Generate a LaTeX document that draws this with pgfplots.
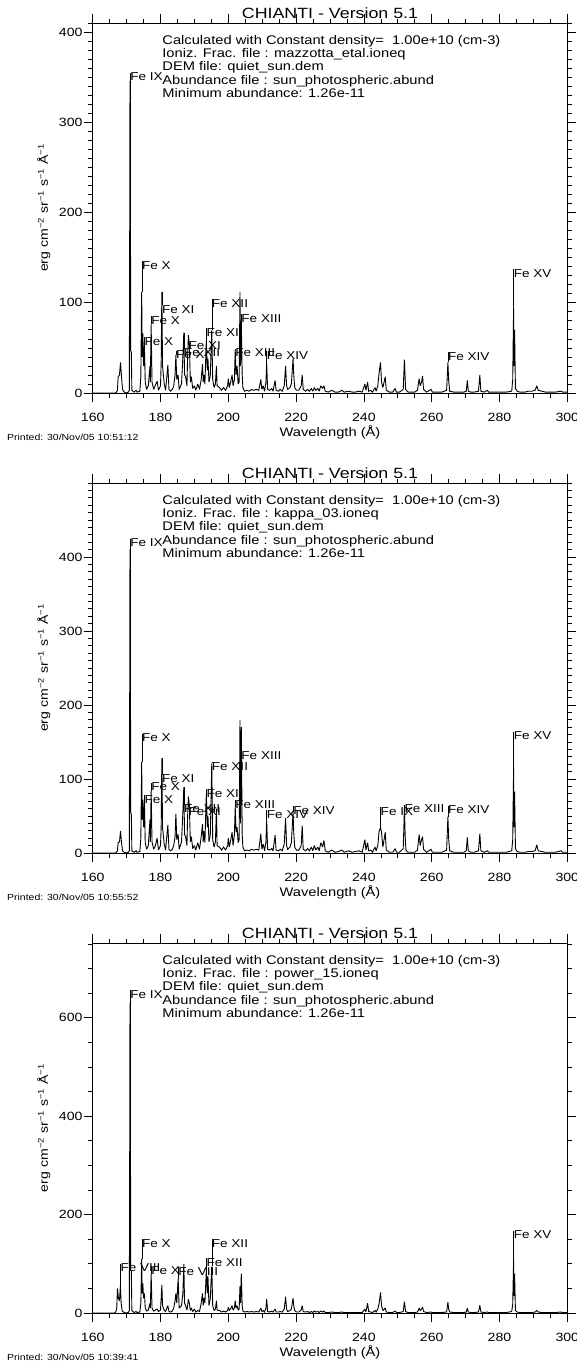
\documentclass[border=0pt]{standalone}
\usepackage{fontspec}
\setmainfont{Liberation Sans}[FakeStretch=1.18]
\newfontfamily\annfam{Liberation Sans}[FakeStretch=1.17]
\newfontfamily\titfam{Liberation Sans}[FakeStretch=1.2]
\usepackage{pgfplots}
\pgfplotsset{compat=1.18}
\newcommand\lfont{\fontsize{11.5}{12}\selectfont}
\newcommand\afont{\annfam\fontsize{12.6}{13}\selectfont}
\newcommand\tfont{\titfam\fontsize{14.9}{15}\selectfont}
\newcommand\pfont{\fontsize{8.9}{9}\selectfont}
\newcommand{\lbl}[4]{\draw[line width=0.5bp] (axis cs:#1,#2) -- (axis cs:#1,#3);
  \node[anchor=north west, inner sep=0pt, font=\lfont] at (axis cs:#1,#3) {#4};}
\newcommand{\info}[1]{%
  \node[anchor=base west, inner sep=0pt, font=\afont] at (rel axis cs:0,1) [xshift=69.5bp, yshift=-21.1bp] {Calculated with Constant density=\ \ 1.00e+10 (cm-3)};
  \node[anchor=base west, inner sep=0pt, font=\afont] at (rel axis cs:0,1) [xshift=69.5bp, yshift=-34.5bp] {Ioniz. Frac. file : #1};
  \node[anchor=base west, inner sep=0pt, font=\afont] at (rel axis cs:0,1) [xshift=69.5bp, yshift=-47.8bp] {DEM file: quiet\_sun.dem};
  \node[anchor=base west, inner sep=0pt, font=\afont] at (rel axis cs:0,1) [xshift=69.5bp, yshift=-61.1bp] {Abundance file : sun\_photospheric.abund};
  \node[anchor=base west, inner sep=0pt, font=\afont] at (rel axis cs:0,1) [xshift=69.5bp, yshift=-74.5bp] {Minimum abundance: 1.26e-11};
  \node[anchor=base, inner sep=0pt, font=\tfont] at (rel axis cs:0.5,1) [yshift=5bp] {CHIANTI - Version 5.1};
  \node[anchor=base, inner sep=0pt, font=\fontsize{12.5}{13}\selectfont] at (rel axis cs:0.5,0) [yshift=-43.3bp] {Wavelength (Å)};
}
\pgfplotsset{
  chianti/.style={
    scale only axis, width=474.6bp, height=370bp,
    xmin=160, xmax=300, ymin=0, clip=false,
    xtick={160,180,...,300}, minor xtick={160,165,...,300},
    tick align=outside, major tick length=9bp, minor tick length=4.5bp,
    axis line style={line width=0.8bp},
    every tick/.style={black, line width=0.7bp},
    tick label style={font=\fontsize{12}{12}\selectfont},
    xticklabel style={anchor=base, inner sep=0pt, yshift=-19.3bp},
    yticklabel style={anchor=east, inner sep=0pt, xshift=-1bp},
    /pgf/number format/assume math mode=true,
    /pgf/number format/1000 sep={},
  },
  spec/.style={black, line width=0.9bp, sharp plot, mark=none, line join=miter, miter limit=2},
}
\begin{document}
\begin{tikzpicture}
\useasboundingbox (0bp,0bp) rectangle (577bp,-1365bp);
% ---------------- panel 1 ----------------
\begin{axis}[chianti, at={(92.7bp,-393bp)}, anchor=south west, ymax=410,
  ytick={0,100,...,400}, minor ytick={0,10,...,410}]
\addplot[spec] coordinates {(160,0) (166.6,0) (167.0,1) (167.3,3) (167.5,18) (167.9,20) (168.2,34) (168.5,18) (168.8,4) (169.3,1) (169.8,0) (170.5,1) (170.8,3) (170.9,153) (171.0,345) (171.1,345) (171.2,47) (171.4,45) (171.55,3) (172.2,1) (172.8,3) (173.1,1) (173.9,2) (174.2,18) (174.45,112) (174.6,40) (174.8,66) (175.0,30) (175.26,51) (175.5,12) (175.9,4) (176.4,8) (176.9,30) (177.0,12) (177.24,76) (177.5,12) (178.0,4) (178.5,9) (179.0,13) (179.4,3) (180.0,8) (180.2,33) (180.4,112) (180.6,30) (181.1,10) (181.5,3) (182.17,31) (182.5,4) (183.0,2) (183.5,4) (183.9,8) (184.3,20) (184.54,42) (184.8,15) (185.2,20) (185.5,4) (186.2,10) (186.6,40) (186.88,67) (187.1,20) (187.4,18) (187.8,8) (188.0,40) (188.23,64) (188.5,55) (188.8,12) (189.1,18) (189.5,5) (190.0,8) (190.4,3) (191.0,10) (191.5,4) (192.0,15) (192.39,32) (192.6,12) (192.8,20) (193.1,10) (193.51,58) (193.8,25) (194.0,38) (194.3,12) (194.7,20) (195.12,70) (195.4,15) (195.8,6) (196.2,10) (196.5,30) (196.7,8) (197.4,6) (198.0,3) (198.6,6) (199.2,3) (199.8,8) (200.0,16) (200.3,6) (200.8,14) (201.12,20) (201.4,8) (201.8,15) (202.04,48) (202.3,20) (202.6,30) (202.9,10) (203.2,12) (203.45,112) (203.6,30) (203.83,80) (204.1,20) (204.3,6) (204.8,2) (205.5,3) (206.2,2) (206.8,4) (207.5,3) (208.3,4) (209.0,3) (209.6,15) (209.9,4) (210.3,8) (210.7,2) (211.1,12) (211.32,33) (211.6,4) (212.2,3) (212.8,5) (213.2,2) (213.8,14) (214.1,3) (214.8,2) (215.3,4) (215.9,2) (216.5,8) (216.9,30) (217.2,8) (217.5,4) (218.2,6) (218.6,10) (219.1,38) (219.3,20) (219.6,6) (220.1,3) (220.8,3) (221.5,8) (221.8,20) (222.1,4) (222.8,2) (223.4,4) (223.9,2) (224.5,5) (224.9,2) (225.4,6) (225.8,3) (226.4,5) (226.8,2) (227.3,8) (227.8,5) (228.2,8) (228.6,2) (229.5,1) (230.5,3) (231.5,1) (232.5,1) (233.5,3) (234.2,1) (235.5,2) (236.5,1) (237.5,1) (238.5,2) (239.5,1) (240.3,10) (240.6,3) (241.1,12) (241.4,2) (242.0,3) (242.5,1) (243.3,6) (243.6,2) (244.1,8) (244.5,23) (244.9,34) (245.2,12) (245.6,6) (246.3,18) (246.6,3) (247.5,1) (248.5,1) (249.2,5) (249.6,1) (250.5,1) (251.6,4) (251.95,37) (252.3,4) (253.0,1) (254.0,1) (255.0,1) (255.8,3) (256.3,16) (256.6,8) (257.0,12) (257.3,19) (257.6,4) (258.5,1) (259.8,4) (260.2,1) (261.5,1) (263.0,1) (264.4,3) (264.78,34) (265.0,14) (265.3,2) (266.5,1) (268.0,1) (269.5,1) (270.2,2) (270.5,14) (270.8,2) (271.5,1) (272.5,1) (273.8,2) (274.2,20) (274.5,2) (275.5,1) (276.4,3) (276.8,1) (278.0,1) (280.0,1) (282.0,1) (283.6,2) (283.9,15) (284.16,95) (284.3,30) (284.45,70) (284.7,5) (285.2,2) (286.0,1) (287.5,1) (288.5,2) (289.5,2) (290.5,3) (291.0,8) (291.4,3) (292.5,2) (293.5,1) (295.0,1) (296.5,1) (298.2,2) (298.6,1) (300,1)};
\lbl{171.07}{345}{355}{Fe IX}
\lbl{174.53}{112}{146}{Fe X}
\lbl{175.26}{51}{62}{Fe X}
\lbl{177.24}{76}{85}{Fe X}
\lbl{180.40}{112}{97}{Fe XI}
\lbl{184.54}{42}{47}{Fe X}
\lbl{186.88}{67}{49}{Fe XII}
\lbl{188.23}{64}{57}{Fe XI}
\lbl{193.51}{58}{72}{Fe XII}
\lbl{195.12}{70}{104}{Fe XII}
\lbl{202.04}{48}{49}{Fe XIII}
\lbl{203.83}{80}{87}{Fe XIII}
\lbl{211.32}{33}{46}{Fe XIV}
\lbl{264.78}{34}{45}{Fe XIV}
\lbl{284.16}{95}{137}{Fe XV}
\info{mazzotta\_etal.ioneq}
\end{axis}
\node[rotate=90, font=\fontsize{12}{12}\selectfont] at (43.9bp,-208bp) {erg cm\textsuperscript{−2} sr\textsuperscript{−1} s\textsuperscript{−1} Å\textsuperscript{−1}};
\node[anchor=base west, inner sep=0pt, font=\pfont] at (7bp,-440.7bp) {Printed: 30/Nov/05 10:51:12};
% ---------------- panel 2 ----------------
\begin{axis}[chianti, at={(92.7bp,-853bp)}, anchor=south west, ymax=500,
  ytick={0,100,...,400}, minor ytick={0,10,...,500}]
\addplot[spec] coordinates {(160,0) (166.6,0) (167.0,1) (167.3,3) (167.5,14) (167.9,15) (168.2,30) (168.5,14) (168.8,3) (169.3,1) (169.8,0) (170.5,1) (170.8,3) (170.9,185) (171.0,410) (171.1,410) (171.2,55) (171.4,52) (171.55,3) (172.2,1) (172.8,3) (173.1,1) (173.9,2) (174.2,20) (174.45,123) (174.6,45) (174.8,72) (175.0,35) (175.26,68) (175.5,14) (175.9,5) (176.4,10) (176.9,45) (177.0,15) (177.24,84) (177.5,15) (178.0,5) (178.5,10) (179.0,20) (179.4,4) (180.0,10) (180.2,35) (180.4,128) (180.6,35) (181.1,12) (181.5,4) (182.17,38) (182.5,5) (183.0,3) (183.5,5) (183.9,10) (184.3,22) (184.54,53) (184.8,18) (185.2,25) (185.5,5) (186.2,15) (186.6,55) (186.88,89) (187.1,25) (187.4,22) (187.8,10) (188.0,50) (188.23,76) (188.5,65) (188.8,15) (189.1,22) (189.5,6) (190.0,10) (190.4,4) (191.0,14) (191.5,5) (192.0,22) (192.39,39) (192.6,15) (192.8,30) (193.1,14) (193.51,80) (193.8,35) (194.0,50) (194.3,15) (194.7,25) (195.12,121) (195.4,18) (195.8,8) (196.2,15) (196.5,60) (196.7,10) (197.4,8) (198.0,4) (198.6,8) (199.2,4) (199.8,10) (200.0,20) (200.3,8) (200.8,20) (201.12,28) (201.4,10) (201.8,25) (202.04,62) (202.3,28) (202.6,35) (202.9,14) (203.2,18) (203.45,180) (203.6,40) (203.83,170) (204.1,25) (204.3,8) (204.8,3) (205.5,4) (206.2,3) (206.8,5) (207.5,4) (208.3,5) (209.0,4) (209.6,26) (209.9,5) (210.3,12) (210.7,3) (211.1,15) (211.32,44) (211.6,5) (212.2,4) (212.8,6) (213.2,3) (213.8,24) (214.1,4) (214.8,3) (215.3,5) (215.9,3) (216.5,12) (216.9,47) (217.2,10) (217.5,5) (218.2,8) (218.6,14) (219.1,55) (219.3,28) (219.6,8) (220.1,4) (220.8,4) (221.5,10) (221.8,37) (222.1,5) (222.8,3) (223.4,6) (223.9,3) (224.5,8) (224.9,3) (225.4,10) (225.8,4) (226.4,8) (226.8,3) (227.3,14) (227.8,8) (228.2,17) (228.6,3) (229.5,1) (230.5,4) (231.5,1) (232.5,2) (233.5,4) (234.2,1) (235.5,3) (236.5,1) (237.5,2) (238.5,3) (239.5,1) (240.3,18) (240.6,4) (241.1,14) (241.4,3) (242.0,4) (242.5,1) (243.3,8) (243.6,3) (244.1,10) (244.5,30) (244.9,34) (245.2,28) (245.6,8) (246.3,28) (246.6,4) (247.5,1) (248.5,1) (249.2,6) (249.6,1) (250.5,1) (251.6,6) (251.95,60) (252.2,20) (252.4,4) (253.0,1) (254.0,1) (255.0,1) (255.8,4) (256.3,25) (256.6,10) (257.0,18) (257.3,22) (257.6,5) (258.5,1) (259.8,5) (260.2,1) (261.5,1) (263.0,1) (264.4,4) (264.78,49) (265.0,20) (265.3,3) (266.5,1) (268.0,1) (269.5,1) (270.2,3) (270.5,21) (270.8,3) (271.5,1) (272.5,1) (273.8,3) (274.2,26) (274.5,3) (275.5,1) (276.4,3) (276.8,1) (278.0,1) (280.0,1) (282.0,1) (283.6,3) (283.9,18) (284.16,115) (284.3,35) (284.45,83) (284.7,6) (285.2,2) (286.0,1) (287.5,1) (288.5,2) (289.5,2) (290.5,3) (291.0,11) (291.4,3) (292.5,2) (293.5,1) (295.0,1) (296.5,1) (298.2,3) (298.6,1) (300,1)};
\lbl{171.07}{410}{425}{Fe IX}
\lbl{174.53}{123}{161}{Fe X}
\lbl{175.26}{68}{78}{Fe X}
\lbl{177.24}{84}{95}{Fe X}
\lbl{180.40}{128}{106}{Fe XI}
\lbl{186.88}{89}{65}{Fe XII}
\lbl{188.23}{76}{62}{Fe XI}
\lbl{193.51}{80}{86}{Fe XII}
\lbl{195.12}{121}{123}{Fe XII}
\lbl{202.04}{62}{71}{Fe XIII}
\lbl{203.83}{170}{137}{Fe XIII}
\lbl{211.32}{44}{58}{Fe XIV}
\lbl{219.13}{55}{63}{Fe XIV}
\lbl{244.91}{34}{62}{Fe IX}
\lbl{251.95}{60}{65}{Fe XIII}
\lbl{264.78}{49}{64}{Fe XIV}
\lbl{284.16}{115}{164}{Fe XV}
\info{kappa\_03.ioneq}
\end{axis}
\node[rotate=90, font=\fontsize{12}{12}\selectfont] at (43.9bp,-668bp) {erg cm\textsuperscript{−2} sr\textsuperscript{−1} s\textsuperscript{−1} Å\textsuperscript{−1}};
\node[anchor=base west, inner sep=0pt, font=\pfont] at (7bp,-900.7bp) {Printed: 30/Nov/05 10:55:52};
% ---------------- panel 3 ----------------
\begin{axis}[chianti, at={(92.7bp,-1313bp)}, anchor=south west, ymax=752,
  ytick={0,200,...,600}, minor ytick={0,50,...,750}]
\addplot[spec] coordinates {(160,0) (166.4,0) (166.8,2) (167.1,10) (167.3,50) (167.6,30) (167.9,25) (168.17,55) (168.4,20) (168.7,4) (169.3,1) (169.8,0) (170.5,1) (170.8,5) (170.9,280) (171.0,630) (171.1,630) (171.2,87) (171.4,85) (171.55,5) (172.2,1) (172.8,3) (173.1,1) (173.9,2) (174.2,20) (174.45,110) (174.6,40) (174.8,60) (175.0,30) (175.26,40) (175.5,10) (175.9,4) (176.4,6) (176.9,20) (177.0,10) (177.24,80) (177.5,10) (178.0,4) (178.5,6) (179.0,8) (179.4,3) (180.0,6) (180.2,30) (180.4,57) (180.6,15) (181.1,5) (181.5,3) (182.17,15) (182.5,3) (183.0,2) (183.5,4) (183.9,10) (184.3,25) (184.54,40) (184.8,20) (185.21,70) (185.5,10) (186.2,15) (186.6,40) (186.88,100) (187.1,20) (187.4,15) (187.8,6) (188.0,15) (188.23,28) (188.5,20) (188.8,5) (189.1,10) (189.5,3) (190.0,8) (190.4,2) (191.0,5) (191.5,3) (192.0,20) (192.39,40) (192.6,15) (192.8,30) (193.1,20) (193.51,85) (193.8,40) (194.0,75) (194.3,15) (194.7,30) (195.12,95) (195.4,15) (195.8,5) (196.2,8) (196.5,25) (196.7,6) (197.4,5) (198.0,2) (198.6,4) (199.2,2) (199.8,5) (200.0,12) (200.3,5) (200.8,10) (201.12,15) (201.4,6) (201.8,10) (202.04,25) (202.3,10) (202.6,15) (202.9,6) (203.2,8) (203.45,55) (203.6,20) (203.83,80) (204.1,15) (204.3,4) (204.8,2) (205.5,3) (206.2,2) (206.8,3) (207.5,2) (208.3,3) (209.0,2) (209.6,10) (209.9,3) (210.3,5) (210.7,2) (211.1,10) (211.32,28) (211.6,3) (212.2,2) (212.8,4) (213.2,2) (213.8,8) (214.1,2) (214.8,2) (215.3,3) (215.9,2) (216.5,8) (216.9,33) (217.2,8) (217.5,3) (218.2,5) (218.6,8) (219.1,30) (219.3,15) (219.6,5) (220.1,2) (220.8,2) (221.5,6) (221.8,15) (222.1,3) (222.8,2) (223.4,3) (223.9,1) (224.5,3) (224.9,1) (225.4,4) (225.8,2) (226.4,3) (226.8,1) (227.3,4) (227.8,2) (228.2,4) (228.6,1) (229.5,1) (230.5,2) (231.5,1) (232.5,1) (233.5,2) (234.2,1) (235.5,1) (236.5,1) (237.5,1) (238.5,1) (239.5,1) (240.3,8) (240.6,2) (241.1,20) (241.4,3) (242.0,2) (242.5,1) (243.3,5) (243.6,2) (244.1,8) (244.5,20) (244.9,42) (245.2,15) (245.6,5) (246.3,10) (246.6,2) (247.5,1) (248.5,1) (249.2,4) (249.6,1) (250.5,1) (251.6,3) (251.95,23) (252.3,3) (253.0,1) (254.0,1) (255.0,1) (255.8,2) (256.3,10) (256.6,5) (257.0,8) (257.3,12) (257.6,3) (258.5,1) (259.8,2) (260.2,1) (261.5,1) (263.0,1) (264.4,2) (264.78,22) (265.0,8) (265.3,2) (266.5,1) (268.0,1) (269.5,1) (270.2,2) (270.5,10) (270.8,2) (271.5,1) (272.5,1) (273.8,2) (274.2,16) (274.5,2) (275.5,1) (276.4,2) (276.8,1) (278.0,1) (280.0,1) (282.0,1) (283.6,3) (283.9,18) (284.16,110) (284.3,35) (284.45,80) (284.7,5) (285.2,2) (286.0,1) (287.5,1) (288.5,1) (289.5,1) (290.5,2) (291.0,5) (291.4,2) (292.5,1) (293.5,1) (295.0,1) (296.5,1) (298.2,2) (298.6,1) (300,1)};
\lbl{168.17}{55}{100}{Fe VIII}
\lbl{171.07}{630}{656}{Fe IX}
\lbl{174.53}{110}{150}{Fe X}
\lbl{177.24}{80}{95}{Fe X}
\lbl{185.21}{70}{93}{Fe VIII}
\lbl{193.51}{85}{111}{Fe XII}
\lbl{195.12}{95}{150}{Fe XII}
\lbl{284.16}{110}{167}{Fe XV}
\info{power\_15.ioneq}
\end{axis}
\node[rotate=90, font=\fontsize{12}{12}\selectfont] at (43.9bp,-1128bp) {erg cm\textsuperscript{−2} sr\textsuperscript{−1} s\textsuperscript{−1} Å\textsuperscript{−1}};
\node[anchor=base west, inner sep=0pt, font=\pfont] at (7bp,-1360.7bp) {Printed: 30/Nov/05 10:39:41};
\end{tikzpicture}
\end{document}
